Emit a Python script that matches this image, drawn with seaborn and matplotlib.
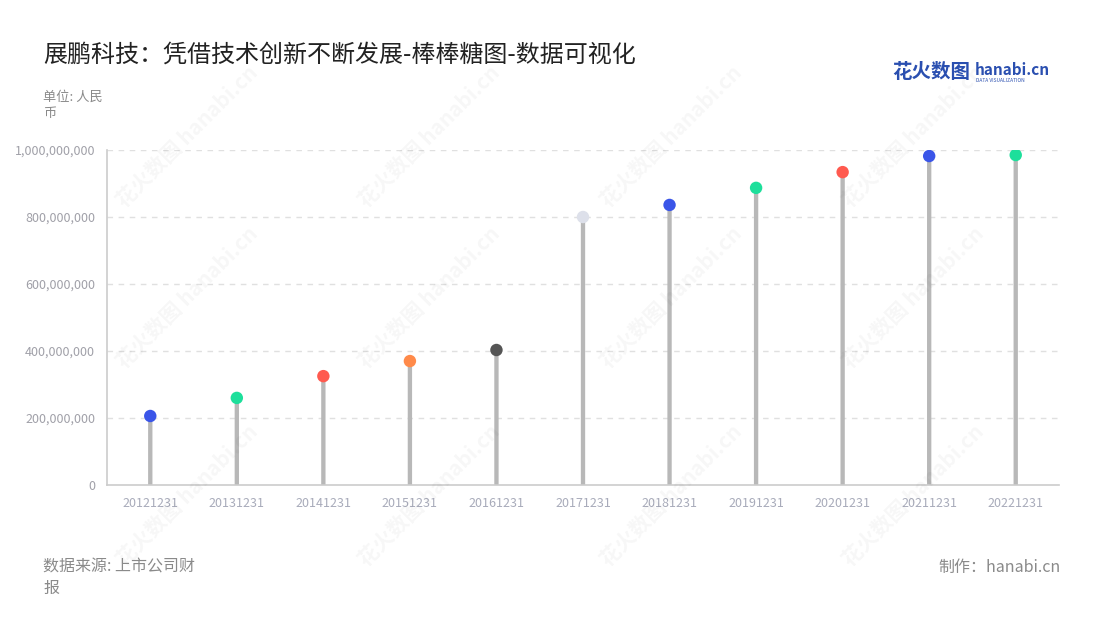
import matplotlib
matplotlib.use("Agg")
import matplotlib.pyplot as plt
import matplotlib.ticker as mticker
import pandas as pd
import seaborn as sns

# --- data ---
periods = ["20121231", "20131231", "20141231", "20151231", "20161231", "20171231",
           "20181231", "20191231", "20201231", "20211231", "20221231"]
values = [206e6, 260e6, 325e6, 370e6, 403e6, 800e6,
          836e6, 887e6, 934e6, 982e6, 985e6]
dot_colors = ["#3a55e8", "#1ddf9b", "#ff5a4f", "#ff8a4a", "#555555", "#dde0ea",
              "#3a55e8", "#1ddf9b", "#ff5a4f", "#3a55e8", "#1ddf9b"]
yticks = [0, 200e6, 400e6, 600e6, 800e6, 1000e6]

df = pd.DataFrame({"period": periods, "value": values})

sns.set_theme(style="white")
plt.rcParams["font.family"] = ["Noto Sans CJK SC", "DejaVu Sans"]

fig = plt.figure(figsize=(11, 6.2), dpi=100)
ax = fig.add_axes([107 / 1100, 1 - 485 / 620, 952 / 1100, 335 / 620])

# watermark
for wx in [0.17, 0.39, 0.61, 0.83]:
    for wy in [0.78, 0.52, 0.20]:
        fig.text(wx, wy, "花火数图 hanabi.cn", rotation=45, fontsize=15,
                 color="#000000", alpha=0.035, ha="center", va="center",
                 fontweight="bold", zorder=0)

# stems
sns.barplot(data=df, x="period", y="value", color="#b8b8b8", width=0.05,
            saturation=1, linewidth=0, snap=False, ax=ax, zorder=2)
# heads
sns.scatterplot(data=df, x="period", y="value", hue="period",
                palette=dot_colors, s=80, linewidth=0, legend=False,
                ax=ax, zorder=3)

ax.set_ylim(0, 1e9)
ax.set_xlim(-0.5, len(periods) - 0.5)
ax.set_yticks(yticks)
ax.yaxis.set_major_formatter(mticker.FuncFormatter(lambda v, p: f"{v:,.0f}"))
ax.set_xlabel("")
ax.set_ylabel("")

for v in yticks[1:]:
    ax.axhline(v, color="#e0e0e0", linestyle=(0, (4, 4)), linewidth=1, zorder=1)

for s in ["top", "right"]:
    ax.spines[s].set_visible(False)
for s in ["left", "bottom"]:
    ax.spines[s].set_color("#cccccc")
    ax.spines[s].set_linewidth(1.2)
ax.tick_params(axis="both", colors="#cccccc", length=5, width=1,
               labelsize=9, labelcolor="#a0a0a8")
ax.tick_params(axis="x", labelcolor="#a8abba")
ax.set_facecolor("none")

# texts
fig.text(43 / 1100, 1 - 55 / 620, "展鹏科技：凭借技术创新不断发展-棒棒糖图-数据可视化",
         fontsize=17.3, color="#222222", va="center", ha="left")
fig.text(43 / 1100, 1 - 105 / 620, "单位: 人民\n币", fontsize=9.5, color="#8a8a8a",
         va="center", ha="left", linespacing=1.3)
fig.text(43 / 1100, 1 - 578 / 620, "数据来源: 上市公司财\n报", fontsize=11.5,
         color="#8a8a8a", va="center", ha="left", linespacing=1.35)
fig.text(1061 / 1100, 1 - 567 / 620, "制作：hanabi.cn", fontsize=11.5,
         color="#8a8a8a", va="center", ha="right")
fig.text(892 / 1100, 1 - 73 / 620, "花火数图", fontsize=14, color="#2a4fb0",
         fontweight="bold", va="center", ha="left")
fig.text(975 / 1100, 1 - 70 / 620, "hanabi.cn", fontsize=11, color="#2a4fb0",
         fontweight="bold", va="center", ha="left")
fig.text(976 / 1100, 1 - 80 / 620, "DATA VISUALIZATION", fontsize=3.5,
         color="#2a4fb0", va="center", ha="left")

fig.savefig("out.png", dpi=100)
